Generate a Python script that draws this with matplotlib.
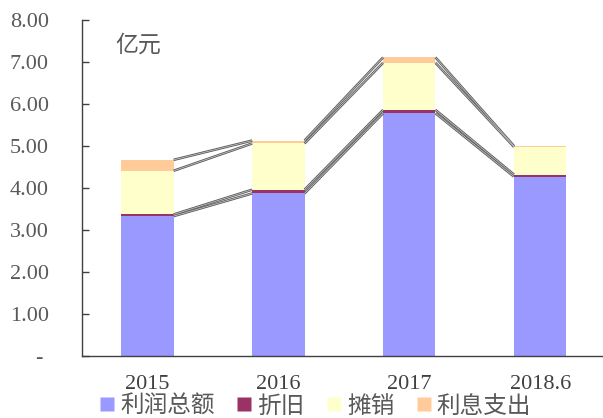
import matplotlib
matplotlib.use("Agg")
import matplotlib.pyplot as plt
from matplotlib.lines import Line2D
import numpy as np

categories = ["2015", "2016", "2017", "2018.6"]
profit = [3.33, 3.87, 5.78, 4.27]
depreciation = [0.04, 0.09, 0.08, 0.05]
amortization = [1.04, 1.10, 1.12, 0.66]
interest = [0.26, 0.07, 0.13, 0.02]
series_names = ["利润总额", "折旧", "摊销", "利息支出"]
colors = ["#9999FF", "#993366", "#FFFFCC", "#FFCC99"]
yticks = [0, 1, 2, 3, 4, 5, 6, 7, 8]

fig = plt.figure(figsize=(6.03, 4.18), dpi=100)
ax = fig.add_axes([82/603, 62/418, 1 - 82/603, (356-20)/418])

x = np.arange(len(categories))
w = 0.4
series = [profit, depreciation, amortization, interest]
bottom = np.zeros(len(categories))
tops = []
for vals, c in zip(series, colors):
    vals = np.array(vals)
    ax.bar(x, vals, w, bottom=bottom, color=c, edgecolor="none", zorder=2)
    bottom = bottom + vals
    tops.append(bottom.copy())

# series lines connecting stacked tops
for t in tops:
    for i in range(len(categories) - 1):
        xs = [x[i] + w/2, x[i+1] - w/2]
        ys = [t[i], t[i+1]]
        ax.plot(xs, ys, color="#5a5a5a", lw=1.8, solid_capstyle="butt", zorder=3)
        ax.plot(xs, ys, color="#c0c0c0", lw=0.6, solid_capstyle="butt", zorder=4)

ax.set_xlim(-0.5, 3.48)
ax.set_ylim(0, 8)
ax.set_yticks(yticks)
ax.set_yticklabels(["- "] + [f"{v:.2f}" for v in yticks[1:]],
                   fontfamily="Liberation Serif", fontsize=16, color="#595959")
ax.set_xticks(x)
ax.set_xticklabels(categories, fontfamily="Liberation Serif", fontsize=16, color="#404040")
ax.tick_params(axis="y", direction="in", length=5, width=1, color="#404040", pad=24)
ax.tick_params(axis="x", length=0, pad=14)
for s in ["top", "right"]:
    ax.spines[s].set_visible(False)
for s in ["left", "bottom"]:
    ax.spines[s].set_color("#404040")
    ax.spines[s].set_linewidth(1)

ax.text((115-82)/521, 0.926, "亿元", transform=ax.transAxes, fontfamily="Noto Sans CJK SC",
        fontsize=16.5, color="#595959", va="center", ha="left")

handles = [Line2D([], [], marker="s", linestyle="none", markersize=10,
                  markerfacecolor=c, markeredgecolor="none") for c in colors]
fig.legend(handles, series_names, loc="center", bbox_to_anchor=(315/603, 1 - 406/418),
           ncol=4, frameon=False, handlelength=0.7, handletextpad=0.2, columnspacing=0.9,
           prop={"family": "Noto Sans CJK SC", "size": 17}, labelcolor="#595959",
           borderpad=0, borderaxespad=0)

fig.savefig("out.png", dpi=100)
